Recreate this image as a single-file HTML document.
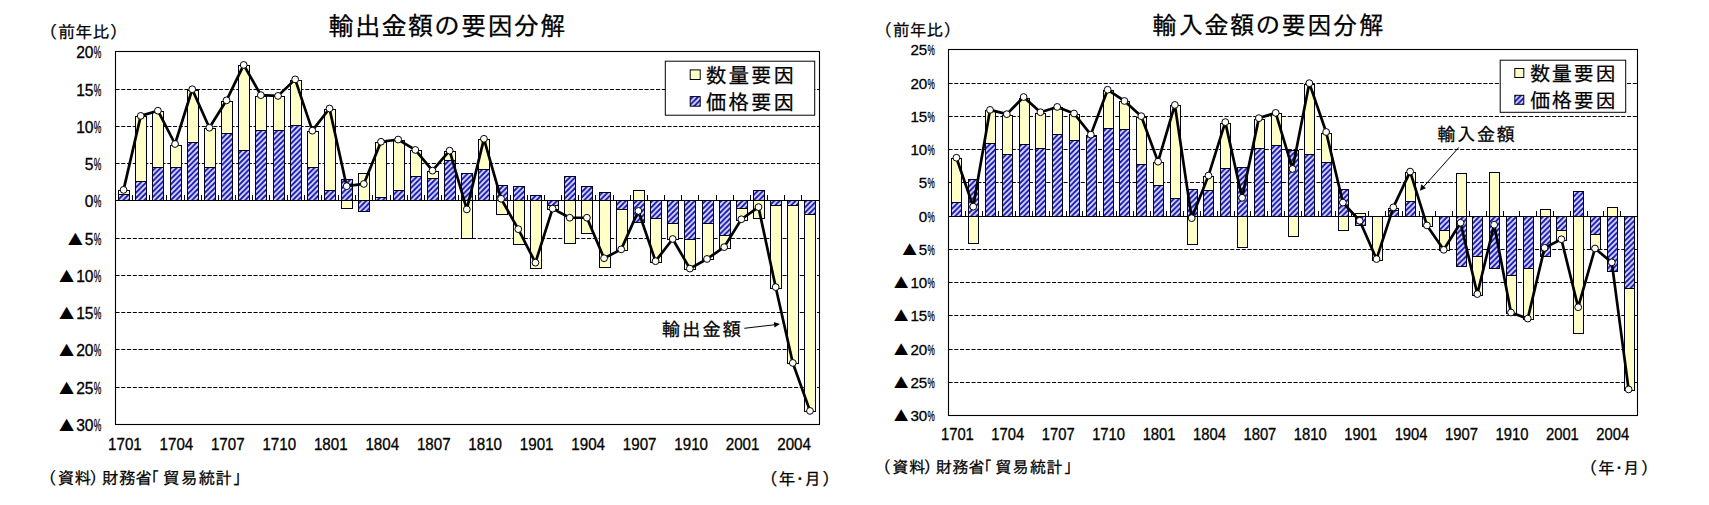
<!DOCTYPE html>
<html lang="ja"><head><meta charset="utf-8"><title>輸出金額・輸入金額の要因分解</title>
<style>html,body{margin:0;padding:0;background:#fff;}body{width:1709px;height:505px;overflow:hidden;}svg{display:block;}text{font-family:"Liberation Sans", "IPAGothic", sans-serif;fill:#000;}.b{stroke:#000;stroke-width:0.3px;}.j{stroke:#000;stroke-width:0.25px;}</style>
</head><body>
<svg width="1709" height="505" viewBox="0 0 1709 505">
<defs><pattern id="hatch" width="5.3" height="5.3" patternUnits="userSpaceOnUse"><rect width="5.3" height="5.3" fill="#e2e2ff"/><path d="M-1 1L1 -1M-1 6.3L6.3 -1M4.3 6.3L6.3 4.3" stroke="#1717b4" stroke-width="2.0"/></pattern></defs>
<rect width="1709" height="505" fill="#fff"/>
<rect x="115.50" y="51.50" width="704.00" height="373.00" fill="#fff" stroke="none"/>
<line x1="115.50" x2="819.50" y1="89.50" y2="89.50" stroke="#000" stroke-width="1" stroke-dasharray="4.1 1.65"/>
<line x1="115.50" x2="819.50" y1="126.50" y2="126.50" stroke="#000" stroke-width="1" stroke-dasharray="4.1 1.65"/>
<line x1="115.50" x2="819.50" y1="163.50" y2="163.50" stroke="#000" stroke-width="1" stroke-dasharray="4.1 1.65"/>
<line x1="115.50" x2="819.50" y1="238.50" y2="238.50" stroke="#000" stroke-width="1" stroke-dasharray="4.1 1.65"/>
<line x1="115.50" x2="819.50" y1="275.50" y2="275.50" stroke="#000" stroke-width="1" stroke-dasharray="4.1 1.65"/>
<line x1="115.50" x2="819.50" y1="312.50" y2="312.50" stroke="#000" stroke-width="1" stroke-dasharray="4.1 1.65"/>
<line x1="115.50" x2="819.50" y1="349.50" y2="349.50" stroke="#000" stroke-width="1" stroke-dasharray="4.1 1.65"/>
<line x1="115.50" x2="819.50" y1="387.50" y2="387.50" stroke="#000" stroke-width="1" stroke-dasharray="4.1 1.65"/>
<rect x="118.50" y="194.50" width="11.00" height="6.00" fill="url(#hatch)" stroke="#000018" stroke-width="1"/>
<rect x="118.50" y="190.50" width="11.00" height="4.00" fill="#ffffc8" stroke="#000018" stroke-width="1"/>
<rect x="135.50" y="181.50" width="11.00" height="19.00" fill="url(#hatch)" stroke="#000018" stroke-width="1"/>
<rect x="135.50" y="116.50" width="11.00" height="65.00" fill="#ffffc8" stroke="#000018" stroke-width="1"/>
<rect x="152.50" y="167.50" width="11.00" height="33.00" fill="url(#hatch)" stroke="#000018" stroke-width="1"/>
<rect x="152.50" y="111.50" width="11.00" height="56.00" fill="#ffffc8" stroke="#000018" stroke-width="1"/>
<rect x="170.50" y="167.50" width="11.00" height="33.00" fill="url(#hatch)" stroke="#000018" stroke-width="1"/>
<rect x="170.50" y="145.50" width="11.00" height="22.00" fill="#ffffc8" stroke="#000018" stroke-width="1"/>
<rect x="187.50" y="142.50" width="11.00" height="58.00" fill="url(#hatch)" stroke="#000018" stroke-width="1"/>
<rect x="187.50" y="90.50" width="11.00" height="52.00" fill="#ffffc8" stroke="#000018" stroke-width="1"/>
<rect x="204.50" y="167.50" width="11.00" height="33.00" fill="url(#hatch)" stroke="#000018" stroke-width="1"/>
<rect x="204.50" y="128.50" width="11.00" height="39.00" fill="#ffffc8" stroke="#000018" stroke-width="1"/>
<rect x="221.50" y="133.50" width="11.00" height="67.00" fill="url(#hatch)" stroke="#000018" stroke-width="1"/>
<rect x="221.50" y="101.50" width="11.00" height="32.00" fill="#ffffc8" stroke="#000018" stroke-width="1"/>
<rect x="238.50" y="150.50" width="11.00" height="50.00" fill="url(#hatch)" stroke="#000018" stroke-width="1"/>
<rect x="238.50" y="65.50" width="11.00" height="85.00" fill="#ffffc8" stroke="#000018" stroke-width="1"/>
<rect x="255.50" y="130.50" width="11.00" height="70.00" fill="url(#hatch)" stroke="#000018" stroke-width="1"/>
<rect x="255.50" y="96.50" width="11.00" height="34.00" fill="#ffffc8" stroke="#000018" stroke-width="1"/>
<rect x="273.50" y="130.50" width="11.00" height="70.00" fill="url(#hatch)" stroke="#000018" stroke-width="1"/>
<rect x="273.50" y="96.50" width="11.00" height="34.00" fill="#ffffc8" stroke="#000018" stroke-width="1"/>
<rect x="290.50" y="125.50" width="11.00" height="75.00" fill="url(#hatch)" stroke="#000018" stroke-width="1"/>
<rect x="290.50" y="80.50" width="11.00" height="45.00" fill="#ffffc8" stroke="#000018" stroke-width="1"/>
<rect x="307.50" y="167.50" width="11.00" height="33.00" fill="url(#hatch)" stroke="#000018" stroke-width="1"/>
<rect x="307.50" y="131.50" width="11.00" height="36.00" fill="#ffffc8" stroke="#000018" stroke-width="1"/>
<rect x="324.50" y="190.50" width="11.00" height="10.00" fill="url(#hatch)" stroke="#000018" stroke-width="1"/>
<rect x="324.50" y="109.50" width="11.00" height="81.00" fill="#ffffc8" stroke="#000018" stroke-width="1"/>
<rect x="341.50" y="179.50" width="11.00" height="21.00" fill="url(#hatch)" stroke="#000018" stroke-width="1"/>
<rect x="341.50" y="200.50" width="11.00" height="8.00" fill="#ffffc8" stroke="#000018" stroke-width="1"/>
<rect x="358.50" y="200.50" width="11.00" height="11.00" fill="url(#hatch)" stroke="#000018" stroke-width="1"/>
<rect x="358.50" y="173.50" width="11.00" height="27.00" fill="#ffffc8" stroke="#000018" stroke-width="1"/>
<rect x="375.50" y="197.50" width="11.00" height="3.00" fill="url(#hatch)" stroke="#000018" stroke-width="1"/>
<rect x="375.50" y="142.50" width="11.00" height="55.00" fill="#ffffc8" stroke="#000018" stroke-width="1"/>
<rect x="393.50" y="190.50" width="11.00" height="10.00" fill="url(#hatch)" stroke="#000018" stroke-width="1"/>
<rect x="393.50" y="140.50" width="11.00" height="50.00" fill="#ffffc8" stroke="#000018" stroke-width="1"/>
<rect x="410.50" y="176.50" width="11.00" height="24.00" fill="url(#hatch)" stroke="#000018" stroke-width="1"/>
<rect x="410.50" y="150.50" width="11.00" height="26.00" fill="#ffffc8" stroke="#000018" stroke-width="1"/>
<rect x="427.50" y="178.50" width="11.00" height="22.00" fill="url(#hatch)" stroke="#000018" stroke-width="1"/>
<rect x="427.50" y="171.50" width="11.00" height="7.00" fill="#ffffc8" stroke="#000018" stroke-width="1"/>
<rect x="444.50" y="160.50" width="11.00" height="40.00" fill="url(#hatch)" stroke="#000018" stroke-width="1"/>
<rect x="444.50" y="151.50" width="11.00" height="9.00" fill="#ffffc8" stroke="#000018" stroke-width="1"/>
<rect x="461.50" y="173.50" width="11.00" height="27.00" fill="url(#hatch)" stroke="#000018" stroke-width="1"/>
<rect x="461.50" y="200.50" width="11.00" height="38.00" fill="#ffffc8" stroke="#000018" stroke-width="1"/>
<rect x="478.50" y="169.50" width="11.00" height="31.00" fill="url(#hatch)" stroke="#000018" stroke-width="1"/>
<rect x="478.50" y="139.50" width="11.00" height="30.00" fill="#ffffc8" stroke="#000018" stroke-width="1"/>
<rect x="496.50" y="185.50" width="11.00" height="15.00" fill="url(#hatch)" stroke="#000018" stroke-width="1"/>
<rect x="496.50" y="200.50" width="11.00" height="14.00" fill="#ffffc8" stroke="#000018" stroke-width="1"/>
<rect x="513.50" y="186.50" width="11.00" height="14.00" fill="url(#hatch)" stroke="#000018" stroke-width="1"/>
<rect x="513.50" y="200.50" width="11.00" height="44.00" fill="#ffffc8" stroke="#000018" stroke-width="1"/>
<rect x="530.50" y="195.50" width="11.00" height="5.00" fill="url(#hatch)" stroke="#000018" stroke-width="1"/>
<rect x="530.50" y="200.50" width="11.00" height="68.00" fill="#ffffc8" stroke="#000018" stroke-width="1"/>
<rect x="547.50" y="200.50" width="11.00" height="5.00" fill="url(#hatch)" stroke="#000018" stroke-width="1"/>
<rect x="547.50" y="205.50" width="11.00" height="4.00" fill="#ffffc8" stroke="#000018" stroke-width="1"/>
<rect x="564.50" y="176.50" width="11.00" height="24.00" fill="url(#hatch)" stroke="#000018" stroke-width="1"/>
<rect x="564.50" y="200.50" width="11.00" height="43.00" fill="#ffffc8" stroke="#000018" stroke-width="1"/>
<rect x="581.50" y="186.50" width="11.00" height="14.00" fill="url(#hatch)" stroke="#000018" stroke-width="1"/>
<rect x="581.50" y="200.50" width="11.00" height="33.00" fill="#ffffc8" stroke="#000018" stroke-width="1"/>
<rect x="599.50" y="192.50" width="11.00" height="8.00" fill="url(#hatch)" stroke="#000018" stroke-width="1"/>
<rect x="599.50" y="200.50" width="11.00" height="67.00" fill="#ffffc8" stroke="#000018" stroke-width="1"/>
<rect x="616.50" y="200.50" width="11.00" height="9.00" fill="url(#hatch)" stroke="#000018" stroke-width="1"/>
<rect x="616.50" y="209.50" width="11.00" height="41.00" fill="#ffffc8" stroke="#000018" stroke-width="1"/>
<rect x="633.50" y="200.50" width="11.00" height="22.00" fill="url(#hatch)" stroke="#000018" stroke-width="1"/>
<rect x="633.50" y="190.50" width="11.00" height="10.00" fill="#ffffc8" stroke="#000018" stroke-width="1"/>
<rect x="650.50" y="200.50" width="11.00" height="18.00" fill="url(#hatch)" stroke="#000018" stroke-width="1"/>
<rect x="650.50" y="218.50" width="11.00" height="44.00" fill="#ffffc8" stroke="#000018" stroke-width="1"/>
<rect x="667.50" y="200.50" width="11.00" height="23.00" fill="url(#hatch)" stroke="#000018" stroke-width="1"/>
<rect x="667.50" y="223.50" width="11.00" height="16.00" fill="#ffffc8" stroke="#000018" stroke-width="1"/>
<rect x="684.50" y="200.50" width="11.00" height="39.00" fill="url(#hatch)" stroke="#000018" stroke-width="1"/>
<rect x="684.50" y="239.50" width="11.00" height="30.00" fill="#ffffc8" stroke="#000018" stroke-width="1"/>
<rect x="702.50" y="200.50" width="11.00" height="23.00" fill="url(#hatch)" stroke="#000018" stroke-width="1"/>
<rect x="702.50" y="223.50" width="11.00" height="36.00" fill="#ffffc8" stroke="#000018" stroke-width="1"/>
<rect x="719.50" y="200.50" width="11.00" height="35.00" fill="url(#hatch)" stroke="#000018" stroke-width="1"/>
<rect x="719.50" y="235.50" width="11.00" height="13.00" fill="#ffffc8" stroke="#000018" stroke-width="1"/>
<rect x="736.50" y="200.50" width="11.00" height="8.00" fill="url(#hatch)" stroke="#000018" stroke-width="1"/>
<rect x="736.50" y="208.50" width="11.00" height="12.00" fill="#ffffc8" stroke="#000018" stroke-width="1"/>
<rect x="753.50" y="190.50" width="11.00" height="10.00" fill="url(#hatch)" stroke="#000018" stroke-width="1"/>
<rect x="753.50" y="200.50" width="11.00" height="18.00" fill="#ffffc8" stroke="#000018" stroke-width="1"/>
<rect x="770.50" y="200.50" width="11.00" height="5.00" fill="url(#hatch)" stroke="#000018" stroke-width="1"/>
<rect x="770.50" y="205.50" width="11.00" height="83.00" fill="#ffffc8" stroke="#000018" stroke-width="1"/>
<rect x="787.50" y="200.50" width="11.00" height="5.00" fill="url(#hatch)" stroke="#000018" stroke-width="1"/>
<rect x="787.50" y="205.50" width="11.00" height="158.00" fill="#ffffc8" stroke="#000018" stroke-width="1"/>
<rect x="804.50" y="200.50" width="11.00" height="14.00" fill="url(#hatch)" stroke="#000018" stroke-width="1"/>
<rect x="804.50" y="214.50" width="11.00" height="197.00" fill="#ffffc8" stroke="#000018" stroke-width="1"/>
<rect x="115.50" y="51.50" width="704.00" height="373.00" fill="none" stroke="#000" stroke-width="1.1"/>
<line x1="115.50" x2="819.50" y1="200.50" y2="200.50" stroke="#000" stroke-width="1.1"/>
<path d="M132.50 200.50v-5.5M149.50 200.50v-5.5M166.50 200.50v-5.5M184.50 200.50v-5.5M201.50 200.50v-5.5M218.50 200.50v-5.5M235.50 200.50v-5.5M252.50 200.50v-5.5M269.50 200.50v-5.5M287.50 200.50v-5.5M304.50 200.50v-5.5M321.50 200.50v-5.5M338.50 200.50v-5.5M355.50 200.50v-5.5M372.50 200.50v-5.5M390.50 200.50v-5.5M407.50 200.50v-5.5M424.50 200.50v-5.5M441.50 200.50v-5.5M458.50 200.50v-5.5M475.50 200.50v-5.5M493.50 200.50v-5.5M510.50 200.50v-5.5M527.50 200.50v-5.5M544.50 200.50v-5.5M561.50 200.50v-5.5M578.50 200.50v-5.5M595.50 200.50v-5.5M613.50 200.50v-5.5M630.50 200.50v-5.5M647.50 200.50v-5.5M664.50 200.50v-5.5M681.50 200.50v-5.5M698.50 200.50v-5.5M716.50 200.50v-5.5M733.50 200.50v-5.5M750.50 200.50v-5.5M767.50 200.50v-5.5M784.50 200.50v-5.5M801.50 200.50v-5.5" stroke="#000" stroke-width="1" fill="none"/>
<polyline points="123.58,189.88 140.74,115.88 157.90,110.70 175.06,144.00 192.22,89.24 209.38,127.72 226.54,100.34 243.70,64.94 260.86,95.16 278.02,95.90 295.18,79.38 312.34,130.68 329.50,108.48 346.66,186.18 363.82,183.96 380.98,141.78 398.14,139.56 415.30,149.92 432.46,170.64 449.62,150.66 466.78,209.38 483.94,138.82 501.10,198.76 518.26,229.14 535.42,262.66 552.58,208.62 569.74,217.74 586.90,217.74 604.06,258.22 621.22,249.34 638.38,210.90 655.54,261.18 672.70,238.98 689.86,268.58 707.02,258.96 724.18,247.12 741.34,219.26 758.50,207.10 775.66,287.08 792.82,362.94 809.98,410.92" fill="none" stroke="#000" stroke-width="2.7" stroke-linejoin="round"/>
<circle cx="123.58" cy="189.88" r="3.4" fill="#fff" stroke="#000" stroke-width="1"/>
<circle cx="140.74" cy="115.88" r="3.4" fill="#fff" stroke="#000" stroke-width="1"/>
<circle cx="157.90" cy="110.70" r="3.4" fill="#fff" stroke="#000" stroke-width="1"/>
<circle cx="175.06" cy="144.00" r="3.4" fill="#fff" stroke="#000" stroke-width="1"/>
<circle cx="192.22" cy="89.24" r="3.4" fill="#fff" stroke="#000" stroke-width="1"/>
<circle cx="209.38" cy="127.72" r="3.4" fill="#fff" stroke="#000" stroke-width="1"/>
<circle cx="226.54" cy="100.34" r="3.4" fill="#fff" stroke="#000" stroke-width="1"/>
<circle cx="243.70" cy="64.94" r="3.4" fill="#fff" stroke="#000" stroke-width="1"/>
<circle cx="260.86" cy="95.16" r="3.4" fill="#fff" stroke="#000" stroke-width="1"/>
<circle cx="278.02" cy="95.90" r="3.4" fill="#fff" stroke="#000" stroke-width="1"/>
<circle cx="295.18" cy="79.38" r="3.4" fill="#fff" stroke="#000" stroke-width="1"/>
<circle cx="312.34" cy="130.68" r="3.4" fill="#fff" stroke="#000" stroke-width="1"/>
<circle cx="329.50" cy="108.48" r="3.4" fill="#fff" stroke="#000" stroke-width="1"/>
<circle cx="346.66" cy="186.18" r="3.4" fill="#fff" stroke="#000" stroke-width="1"/>
<circle cx="363.82" cy="183.96" r="3.4" fill="#fff" stroke="#000" stroke-width="1"/>
<circle cx="380.98" cy="141.78" r="3.4" fill="#fff" stroke="#000" stroke-width="1"/>
<circle cx="398.14" cy="139.56" r="3.4" fill="#fff" stroke="#000" stroke-width="1"/>
<circle cx="415.30" cy="149.92" r="3.4" fill="#fff" stroke="#000" stroke-width="1"/>
<circle cx="432.46" cy="170.64" r="3.4" fill="#fff" stroke="#000" stroke-width="1"/>
<circle cx="449.62" cy="150.66" r="3.4" fill="#fff" stroke="#000" stroke-width="1"/>
<circle cx="466.78" cy="209.38" r="3.4" fill="#fff" stroke="#000" stroke-width="1"/>
<circle cx="483.94" cy="138.82" r="3.4" fill="#fff" stroke="#000" stroke-width="1"/>
<circle cx="501.10" cy="198.76" r="3.4" fill="#fff" stroke="#000" stroke-width="1"/>
<circle cx="518.26" cy="229.14" r="3.4" fill="#fff" stroke="#000" stroke-width="1"/>
<circle cx="535.42" cy="262.66" r="3.4" fill="#fff" stroke="#000" stroke-width="1"/>
<circle cx="552.58" cy="208.62" r="3.4" fill="#fff" stroke="#000" stroke-width="1"/>
<circle cx="569.74" cy="217.74" r="3.4" fill="#fff" stroke="#000" stroke-width="1"/>
<circle cx="586.90" cy="217.74" r="3.4" fill="#fff" stroke="#000" stroke-width="1"/>
<circle cx="604.06" cy="258.22" r="3.4" fill="#fff" stroke="#000" stroke-width="1"/>
<circle cx="621.22" cy="249.34" r="3.4" fill="#fff" stroke="#000" stroke-width="1"/>
<circle cx="638.38" cy="210.90" r="3.4" fill="#fff" stroke="#000" stroke-width="1"/>
<circle cx="655.54" cy="261.18" r="3.4" fill="#fff" stroke="#000" stroke-width="1"/>
<circle cx="672.70" cy="238.98" r="3.4" fill="#fff" stroke="#000" stroke-width="1"/>
<circle cx="689.86" cy="268.58" r="3.4" fill="#fff" stroke="#000" stroke-width="1"/>
<circle cx="707.02" cy="258.96" r="3.4" fill="#fff" stroke="#000" stroke-width="1"/>
<circle cx="724.18" cy="247.12" r="3.4" fill="#fff" stroke="#000" stroke-width="1"/>
<circle cx="741.34" cy="219.26" r="3.4" fill="#fff" stroke="#000" stroke-width="1"/>
<circle cx="758.50" cy="207.10" r="3.4" fill="#fff" stroke="#000" stroke-width="1"/>
<circle cx="775.66" cy="287.08" r="3.4" fill="#fff" stroke="#000" stroke-width="1"/>
<circle cx="792.82" cy="362.94" r="3.4" fill="#fff" stroke="#000" stroke-width="1"/>
<circle cx="809.98" cy="410.92" r="3.4" fill="#fff" stroke="#000" stroke-width="1"/>
<text x="101.4" y="58.1" font-size="15.6" text-anchor="end" textLength="7.6" lengthAdjust="spacingAndGlyphs" class="b">%</text>
<text x="93.5" y="58.1" font-size="15.6" text-anchor="end" class="b">20</text>
<text x="101.4" y="96.1" font-size="15.6" text-anchor="end" textLength="7.6" lengthAdjust="spacingAndGlyphs" class="b">%</text>
<text x="93.5" y="96.1" font-size="15.6" text-anchor="end" class="b">15</text>
<text x="101.4" y="133.1" font-size="15.6" text-anchor="end" textLength="7.6" lengthAdjust="spacingAndGlyphs" class="b">%</text>
<text x="93.5" y="133.1" font-size="15.6" text-anchor="end" class="b">10</text>
<text x="101.4" y="170.1" font-size="15.6" text-anchor="end" textLength="7.6" lengthAdjust="spacingAndGlyphs" class="b">%</text>
<text x="93.5" y="170.1" font-size="15.6" text-anchor="end" class="b">5</text>
<text x="101.4" y="207.1" font-size="15.6" text-anchor="end" textLength="7.6" lengthAdjust="spacingAndGlyphs" class="b">%</text>
<text x="93.5" y="207.1" font-size="15.6" text-anchor="end" class="b">0</text>
<text x="101.4" y="245.1" font-size="15.6" text-anchor="end" textLength="7.6" lengthAdjust="spacingAndGlyphs" class="b">%</text>
<text x="93.5" y="245.1" font-size="15.6" text-anchor="end" class="b">5</text>
<text transform="translate(63.3 245.4) scale(1.04 0.89)" font-size="23.5">▲</text>
<text x="101.4" y="282.1" font-size="15.6" text-anchor="end" textLength="7.6" lengthAdjust="spacingAndGlyphs" class="b">%</text>
<text x="93.5" y="282.1" font-size="15.6" text-anchor="end" class="b">10</text>
<text transform="translate(54.6 282.4) scale(1.04 0.89)" font-size="23.5">▲</text>
<text x="101.4" y="319.1" font-size="15.6" text-anchor="end" textLength="7.6" lengthAdjust="spacingAndGlyphs" class="b">%</text>
<text x="93.5" y="319.1" font-size="15.6" text-anchor="end" class="b">15</text>
<text transform="translate(54.6 319.4) scale(1.04 0.89)" font-size="23.5">▲</text>
<text x="101.4" y="356.1" font-size="15.6" text-anchor="end" textLength="7.6" lengthAdjust="spacingAndGlyphs" class="b">%</text>
<text x="93.5" y="356.1" font-size="15.6" text-anchor="end" class="b">20</text>
<text transform="translate(54.6 356.4) scale(1.04 0.89)" font-size="23.5">▲</text>
<text x="101.4" y="394.1" font-size="15.6" text-anchor="end" textLength="7.6" lengthAdjust="spacingAndGlyphs" class="b">%</text>
<text x="93.5" y="394.1" font-size="15.6" text-anchor="end" class="b">25</text>
<text transform="translate(54.6 394.4) scale(1.04 0.89)" font-size="23.5">▲</text>
<text x="101.4" y="431.1" font-size="15.6" text-anchor="end" textLength="7.6" lengthAdjust="spacingAndGlyphs" class="b">%</text>
<text x="93.5" y="431.1" font-size="15.6" text-anchor="end" class="b">30</text>
<text transform="translate(54.6 431.4) scale(1.04 0.89)" font-size="23.5">▲</text>
<text x="124.9" y="449.8" font-size="16.2" text-anchor="middle" textLength="33.7" lengthAdjust="spacingAndGlyphs" class="b">1701</text>
<text x="176.4" y="449.8" font-size="16.2" text-anchor="middle" textLength="33.7" lengthAdjust="spacingAndGlyphs" class="b">1704</text>
<text x="227.8" y="449.8" font-size="16.2" text-anchor="middle" textLength="33.7" lengthAdjust="spacingAndGlyphs" class="b">1707</text>
<text x="279.3" y="449.8" font-size="16.2" text-anchor="middle" textLength="33.7" lengthAdjust="spacingAndGlyphs" class="b">1710</text>
<text x="330.8" y="449.8" font-size="16.2" text-anchor="middle" textLength="33.7" lengthAdjust="spacingAndGlyphs" class="b">1801</text>
<text x="382.3" y="449.8" font-size="16.2" text-anchor="middle" textLength="33.7" lengthAdjust="spacingAndGlyphs" class="b">1804</text>
<text x="433.8" y="449.8" font-size="16.2" text-anchor="middle" textLength="33.7" lengthAdjust="spacingAndGlyphs" class="b">1807</text>
<text x="485.2" y="449.8" font-size="16.2" text-anchor="middle" textLength="33.7" lengthAdjust="spacingAndGlyphs" class="b">1810</text>
<text x="536.7" y="449.8" font-size="16.2" text-anchor="middle" textLength="33.7" lengthAdjust="spacingAndGlyphs" class="b">1901</text>
<text x="588.2" y="449.8" font-size="16.2" text-anchor="middle" textLength="33.7" lengthAdjust="spacingAndGlyphs" class="b">1904</text>
<text x="639.7" y="449.8" font-size="16.2" text-anchor="middle" textLength="33.7" lengthAdjust="spacingAndGlyphs" class="b">1907</text>
<text x="691.2" y="449.8" font-size="16.2" text-anchor="middle" textLength="33.7" lengthAdjust="spacingAndGlyphs" class="b">1910</text>
<text x="742.6" y="449.8" font-size="16.2" text-anchor="middle" textLength="33.7" lengthAdjust="spacingAndGlyphs" class="b">2001</text>
<text x="794.1" y="449.8" font-size="16.2" text-anchor="middle" textLength="33.7" lengthAdjust="spacingAndGlyphs" class="b">2004</text>
<rect x="665.3" y="61.2" width="149.4" height="54" fill="#fff" stroke="#000" stroke-width="1"/>
<rect x="690.2" y="69.9" width="10" height="9.6" fill="#ffffc8" stroke="#000" stroke-width="1"/>
<rect x="690.2" y="96.6" width="10" height="9.6" fill="url(#hatch)" stroke="#000018" stroke-width="1"/>
<text x="705.80 728.40 751.00 773.60" y="83.0" font-size="20.8" class="j">数量要因</text>
<text x="705.80 728.40 751.00 773.60" y="109.8" font-size="20.8" class="j">価格要因</text>
<text x="328.45 354.90 381.35 407.80 434.25 460.70 487.15 513.60 540.05" y="35.2" font-size="25.5" class="j">輸出金額の要因分解</text>
<text x="40.48 58.20 75.20 92.70 109.77" y="38.0" font-size="16.8" class="j">（前年比）</text>
<text x="761.03 778.50 791.50 804.30 821.97" y="485.0" font-size="16.8" class="j">（年・月）</text>
<text x="40.09 57.75 74.60 89.21 101.90 118.90 135.30 142.87 163.10 180.70 198.50 215.20 232.73" y="484.2" font-size="16.6" class="j">（資料）財務省「貿易統計」</text>
<text x="661.80 682.00 702.20 722.40" y="335.8" font-size="18.6" class="j">輸出金額</text>
<line x1="744.3" y1="328.3" x2="776" y2="324.6" stroke="#000" stroke-width="1"/>
<polygon points="780,324.0 773.8,321.9 774.5,327.6" fill="#000"/>
<rect x="948.50" y="49.50" width="689.00" height="366.00" fill="#fff" stroke="none"/>
<line x1="948.50" x2="1637.50" y1="83.50" y2="83.50" stroke="#000" stroke-width="1" stroke-dasharray="4.1 1.65"/>
<line x1="948.50" x2="1637.50" y1="116.50" y2="116.50" stroke="#000" stroke-width="1" stroke-dasharray="4.1 1.65"/>
<line x1="948.50" x2="1637.50" y1="149.50" y2="149.50" stroke="#000" stroke-width="1" stroke-dasharray="4.1 1.65"/>
<line x1="948.50" x2="1637.50" y1="182.50" y2="182.50" stroke="#000" stroke-width="1" stroke-dasharray="4.1 1.65"/>
<line x1="948.50" x2="1637.50" y1="249.50" y2="249.50" stroke="#000" stroke-width="1" stroke-dasharray="4.1 1.65"/>
<line x1="948.50" x2="1637.50" y1="282.50" y2="282.50" stroke="#000" stroke-width="1" stroke-dasharray="4.1 1.65"/>
<line x1="948.50" x2="1637.50" y1="315.50" y2="315.50" stroke="#000" stroke-width="1" stroke-dasharray="4.1 1.65"/>
<line x1="948.50" x2="1637.50" y1="349.50" y2="349.50" stroke="#000" stroke-width="1" stroke-dasharray="4.1 1.65"/>
<line x1="948.50" x2="1637.50" y1="382.50" y2="382.50" stroke="#000" stroke-width="1" stroke-dasharray="4.1 1.65"/>
<rect x="951.50" y="202.50" width="10.00" height="14.00" fill="url(#hatch)" stroke="#000018" stroke-width="1"/>
<rect x="951.50" y="158.50" width="10.00" height="44.00" fill="#ffffc8" stroke="#000018" stroke-width="1"/>
<rect x="968.50" y="179.50" width="10.00" height="37.00" fill="url(#hatch)" stroke="#000018" stroke-width="1"/>
<rect x="968.50" y="216.50" width="10.00" height="27.00" fill="#ffffc8" stroke="#000018" stroke-width="1"/>
<rect x="985.50" y="143.50" width="10.00" height="73.00" fill="url(#hatch)" stroke="#000018" stroke-width="1"/>
<rect x="985.50" y="110.50" width="10.00" height="33.00" fill="#ffffc8" stroke="#000018" stroke-width="1"/>
<rect x="1002.50" y="154.50" width="10.00" height="62.00" fill="url(#hatch)" stroke="#000018" stroke-width="1"/>
<rect x="1002.50" y="115.50" width="10.00" height="39.00" fill="#ffffc8" stroke="#000018" stroke-width="1"/>
<rect x="1019.50" y="144.50" width="10.00" height="72.00" fill="url(#hatch)" stroke="#000018" stroke-width="1"/>
<rect x="1019.50" y="98.50" width="10.00" height="46.00" fill="#ffffc8" stroke="#000018" stroke-width="1"/>
<rect x="1035.50" y="148.50" width="10.00" height="68.00" fill="url(#hatch)" stroke="#000018" stroke-width="1"/>
<rect x="1035.50" y="113.50" width="10.00" height="35.00" fill="#ffffc8" stroke="#000018" stroke-width="1"/>
<rect x="1052.50" y="134.50" width="10.00" height="82.00" fill="url(#hatch)" stroke="#000018" stroke-width="1"/>
<rect x="1052.50" y="107.50" width="10.00" height="27.00" fill="#ffffc8" stroke="#000018" stroke-width="1"/>
<rect x="1069.50" y="140.50" width="10.00" height="76.00" fill="url(#hatch)" stroke="#000018" stroke-width="1"/>
<rect x="1069.50" y="114.50" width="10.00" height="26.00" fill="#ffffc8" stroke="#000018" stroke-width="1"/>
<rect x="1086.50" y="136.50" width="10.00" height="80.00" fill="url(#hatch)" stroke="#000018" stroke-width="1"/>
<rect x="1086.50" y="135.50" width="10.00" height="1.00" fill="#ffffc8" stroke="#000018" stroke-width="1"/>
<rect x="1103.50" y="128.50" width="10.00" height="88.00" fill="url(#hatch)" stroke="#000018" stroke-width="1"/>
<rect x="1103.50" y="90.50" width="10.00" height="38.00" fill="#ffffc8" stroke="#000018" stroke-width="1"/>
<rect x="1119.50" y="129.50" width="10.00" height="87.00" fill="url(#hatch)" stroke="#000018" stroke-width="1"/>
<rect x="1119.50" y="101.50" width="10.00" height="28.00" fill="#ffffc8" stroke="#000018" stroke-width="1"/>
<rect x="1136.50" y="164.50" width="10.00" height="52.00" fill="url(#hatch)" stroke="#000018" stroke-width="1"/>
<rect x="1136.50" y="117.50" width="10.00" height="47.00" fill="#ffffc8" stroke="#000018" stroke-width="1"/>
<rect x="1153.50" y="185.50" width="10.00" height="31.00" fill="url(#hatch)" stroke="#000018" stroke-width="1"/>
<rect x="1153.50" y="162.50" width="10.00" height="23.00" fill="#ffffc8" stroke="#000018" stroke-width="1"/>
<rect x="1170.50" y="198.50" width="10.00" height="18.00" fill="url(#hatch)" stroke="#000018" stroke-width="1"/>
<rect x="1170.50" y="105.50" width="10.00" height="93.00" fill="#ffffc8" stroke="#000018" stroke-width="1"/>
<rect x="1187.50" y="189.50" width="10.00" height="27.00" fill="url(#hatch)" stroke="#000018" stroke-width="1"/>
<rect x="1187.50" y="216.50" width="10.00" height="28.00" fill="#ffffc8" stroke="#000018" stroke-width="1"/>
<rect x="1203.50" y="190.50" width="10.00" height="26.00" fill="url(#hatch)" stroke="#000018" stroke-width="1"/>
<rect x="1203.50" y="176.50" width="10.00" height="14.00" fill="#ffffc8" stroke="#000018" stroke-width="1"/>
<rect x="1220.50" y="168.50" width="10.00" height="48.00" fill="url(#hatch)" stroke="#000018" stroke-width="1"/>
<rect x="1220.50" y="123.50" width="10.00" height="45.00" fill="#ffffc8" stroke="#000018" stroke-width="1"/>
<rect x="1237.50" y="167.50" width="10.00" height="49.00" fill="url(#hatch)" stroke="#000018" stroke-width="1"/>
<rect x="1237.50" y="216.50" width="10.00" height="31.00" fill="#ffffc8" stroke="#000018" stroke-width="1"/>
<rect x="1254.50" y="148.50" width="10.00" height="68.00" fill="url(#hatch)" stroke="#000018" stroke-width="1"/>
<rect x="1254.50" y="119.50" width="10.00" height="29.00" fill="#ffffc8" stroke="#000018" stroke-width="1"/>
<rect x="1271.50" y="145.50" width="10.00" height="71.00" fill="url(#hatch)" stroke="#000018" stroke-width="1"/>
<rect x="1271.50" y="113.50" width="10.00" height="32.00" fill="#ffffc8" stroke="#000018" stroke-width="1"/>
<rect x="1288.50" y="150.50" width="10.00" height="66.00" fill="url(#hatch)" stroke="#000018" stroke-width="1"/>
<rect x="1288.50" y="216.50" width="10.00" height="20.00" fill="#ffffc8" stroke="#000018" stroke-width="1"/>
<rect x="1304.50" y="154.50" width="10.00" height="62.00" fill="url(#hatch)" stroke="#000018" stroke-width="1"/>
<rect x="1304.50" y="84.50" width="10.00" height="70.00" fill="#ffffc8" stroke="#000018" stroke-width="1"/>
<rect x="1321.50" y="162.50" width="10.00" height="54.00" fill="url(#hatch)" stroke="#000018" stroke-width="1"/>
<rect x="1321.50" y="133.50" width="10.00" height="29.00" fill="#ffffc8" stroke="#000018" stroke-width="1"/>
<rect x="1338.50" y="189.50" width="10.00" height="27.00" fill="url(#hatch)" stroke="#000018" stroke-width="1"/>
<rect x="1338.50" y="216.50" width="10.00" height="14.00" fill="#ffffc8" stroke="#000018" stroke-width="1"/>
<rect x="1355.50" y="216.50" width="10.00" height="9.00" fill="url(#hatch)" stroke="#000018" stroke-width="1"/>
<rect x="1355.50" y="213.50" width="10.00" height="3.00" fill="#ffffc8" stroke="#000018" stroke-width="1"/>
<rect x="1372.50" y="216.50" width="10.00" height="44.00" fill="#ffffc8" stroke="#000018" stroke-width="1"/>
<rect x="1388.50" y="210.50" width="10.00" height="6.00" fill="url(#hatch)" stroke="#000018" stroke-width="1"/>
<rect x="1388.50" y="208.50" width="10.00" height="2.00" fill="#ffffc8" stroke="#000018" stroke-width="1"/>
<rect x="1405.50" y="201.50" width="10.00" height="15.00" fill="url(#hatch)" stroke="#000018" stroke-width="1"/>
<rect x="1405.50" y="172.50" width="10.00" height="29.00" fill="#ffffc8" stroke="#000018" stroke-width="1"/>
<rect x="1422.50" y="216.50" width="10.00" height="10.00" fill="#ffffc8" stroke="#000018" stroke-width="1"/>
<rect x="1439.50" y="216.50" width="10.00" height="14.00" fill="url(#hatch)" stroke="#000018" stroke-width="1"/>
<rect x="1439.50" y="230.50" width="10.00" height="20.00" fill="#ffffc8" stroke="#000018" stroke-width="1"/>
<rect x="1456.50" y="216.50" width="10.00" height="50.00" fill="url(#hatch)" stroke="#000018" stroke-width="1"/>
<rect x="1456.50" y="173.50" width="10.00" height="43.00" fill="#ffffc8" stroke="#000018" stroke-width="1"/>
<rect x="1472.50" y="216.50" width="10.00" height="40.00" fill="url(#hatch)" stroke="#000018" stroke-width="1"/>
<rect x="1472.50" y="256.50" width="10.00" height="39.00" fill="#ffffc8" stroke="#000018" stroke-width="1"/>
<rect x="1489.50" y="216.50" width="10.00" height="52.00" fill="url(#hatch)" stroke="#000018" stroke-width="1"/>
<rect x="1489.50" y="172.50" width="10.00" height="44.00" fill="#ffffc8" stroke="#000018" stroke-width="1"/>
<rect x="1506.50" y="216.50" width="10.00" height="59.00" fill="url(#hatch)" stroke="#000018" stroke-width="1"/>
<rect x="1506.50" y="275.50" width="10.00" height="38.00" fill="#ffffc8" stroke="#000018" stroke-width="1"/>
<rect x="1523.50" y="216.50" width="10.00" height="52.00" fill="url(#hatch)" stroke="#000018" stroke-width="1"/>
<rect x="1523.50" y="268.50" width="10.00" height="51.00" fill="#ffffc8" stroke="#000018" stroke-width="1"/>
<rect x="1540.50" y="216.50" width="10.00" height="40.00" fill="url(#hatch)" stroke="#000018" stroke-width="1"/>
<rect x="1540.50" y="209.50" width="10.00" height="7.00" fill="#ffffc8" stroke="#000018" stroke-width="1"/>
<rect x="1556.50" y="216.50" width="10.00" height="14.00" fill="url(#hatch)" stroke="#000018" stroke-width="1"/>
<rect x="1556.50" y="230.50" width="10.00" height="10.00" fill="#ffffc8" stroke="#000018" stroke-width="1"/>
<rect x="1573.50" y="191.50" width="10.00" height="25.00" fill="url(#hatch)" stroke="#000018" stroke-width="1"/>
<rect x="1573.50" y="216.50" width="10.00" height="117.00" fill="#ffffc8" stroke="#000018" stroke-width="1"/>
<rect x="1590.50" y="216.50" width="10.00" height="18.00" fill="url(#hatch)" stroke="#000018" stroke-width="1"/>
<rect x="1590.50" y="234.50" width="10.00" height="15.00" fill="#ffffc8" stroke="#000018" stroke-width="1"/>
<rect x="1607.50" y="216.50" width="10.00" height="55.00" fill="url(#hatch)" stroke="#000018" stroke-width="1"/>
<rect x="1607.50" y="207.50" width="10.00" height="9.00" fill="#ffffc8" stroke="#000018" stroke-width="1"/>
<rect x="1624.50" y="216.50" width="10.00" height="72.00" fill="url(#hatch)" stroke="#000018" stroke-width="1"/>
<rect x="1624.50" y="288.50" width="10.00" height="102.00" fill="#ffffc8" stroke="#000018" stroke-width="1"/>
<rect x="948.50" y="49.50" width="689.00" height="366.00" fill="none" stroke="#000" stroke-width="1.1"/>
<line x1="948.50" x2="1637.50" y1="216.50" y2="216.50" stroke="#000" stroke-width="1.1"/>
<path d="M965.50 216.50v-5.5M982.50 216.50v-5.5M998.50 216.50v-5.5M1015.50 216.50v-5.5M1032.50 216.50v-5.5M1049.50 216.50v-5.5M1066.50 216.50v-5.5M1082.50 216.50v-5.5M1099.50 216.50v-5.5M1116.50 216.50v-5.5M1133.50 216.50v-5.5M1150.50 216.50v-5.5M1166.50 216.50v-5.5M1183.50 216.50v-5.5M1200.50 216.50v-5.5M1217.50 216.50v-5.5M1234.50 216.50v-5.5M1250.50 216.50v-5.5M1267.50 216.50v-5.5M1284.50 216.50v-5.5M1301.50 216.50v-5.5M1318.50 216.50v-5.5M1335.50 216.50v-5.5M1351.50 216.50v-5.5M1368.50 216.50v-5.5M1385.50 216.50v-5.5M1402.50 216.50v-5.5M1419.50 216.50v-5.5M1435.50 216.50v-5.5M1452.50 216.50v-5.5M1469.50 216.50v-5.5M1486.50 216.50v-5.5M1503.50 216.50v-5.5M1519.50 216.50v-5.5M1536.50 216.50v-5.5M1553.50 216.50v-5.5M1570.50 216.50v-5.5M1587.50 216.50v-5.5M1603.50 216.50v-5.5M1620.50 216.50v-5.5" stroke="#000" stroke-width="1" fill="none"/>
<polyline points="956.40,157.74 973.21,206.66 990.01,109.89 1006.82,114.18 1023.62,97.02 1040.43,112.20 1057.23,106.92 1074.04,113.52 1090.84,134.64 1107.65,89.76 1124.45,100.98 1141.26,116.16 1158.06,161.70 1174.87,104.94 1191.67,218.14 1208.48,175.56 1225.28,122.10 1242.09,197.82 1258.89,118.14 1275.70,112.86 1292.50,168.96 1309.30,83.16 1326.11,132.00 1342.91,202.58 1359.72,220.78 1376.52,259.06 1393.33,207.34 1410.13,171.60 1426.94,225.40 1443.74,249.82 1460.55,222.76 1477.35,294.04 1494.16,224.74 1510.96,312.52 1527.77,318.58 1544.57,247.84 1561.38,239.26 1578.18,307.24 1594.99,248.50 1611.79,262.36 1628.60,389.42" fill="none" stroke="#000" stroke-width="2.7" stroke-linejoin="round"/>
<circle cx="956.40" cy="157.74" r="3.4" fill="#fff" stroke="#000" stroke-width="1"/>
<circle cx="973.21" cy="206.66" r="3.4" fill="#fff" stroke="#000" stroke-width="1"/>
<circle cx="990.01" cy="109.89" r="3.4" fill="#fff" stroke="#000" stroke-width="1"/>
<circle cx="1006.82" cy="114.18" r="3.4" fill="#fff" stroke="#000" stroke-width="1"/>
<circle cx="1023.62" cy="97.02" r="3.4" fill="#fff" stroke="#000" stroke-width="1"/>
<circle cx="1040.43" cy="112.20" r="3.4" fill="#fff" stroke="#000" stroke-width="1"/>
<circle cx="1057.23" cy="106.92" r="3.4" fill="#fff" stroke="#000" stroke-width="1"/>
<circle cx="1074.04" cy="113.52" r="3.4" fill="#fff" stroke="#000" stroke-width="1"/>
<circle cx="1090.84" cy="134.64" r="3.4" fill="#fff" stroke="#000" stroke-width="1"/>
<circle cx="1107.65" cy="89.76" r="3.4" fill="#fff" stroke="#000" stroke-width="1"/>
<circle cx="1124.45" cy="100.98" r="3.4" fill="#fff" stroke="#000" stroke-width="1"/>
<circle cx="1141.26" cy="116.16" r="3.4" fill="#fff" stroke="#000" stroke-width="1"/>
<circle cx="1158.06" cy="161.70" r="3.4" fill="#fff" stroke="#000" stroke-width="1"/>
<circle cx="1174.87" cy="104.94" r="3.4" fill="#fff" stroke="#000" stroke-width="1"/>
<circle cx="1191.67" cy="218.14" r="3.4" fill="#fff" stroke="#000" stroke-width="1"/>
<circle cx="1208.48" cy="175.56" r="3.4" fill="#fff" stroke="#000" stroke-width="1"/>
<circle cx="1225.28" cy="122.10" r="3.4" fill="#fff" stroke="#000" stroke-width="1"/>
<circle cx="1242.09" cy="197.82" r="3.4" fill="#fff" stroke="#000" stroke-width="1"/>
<circle cx="1258.89" cy="118.14" r="3.4" fill="#fff" stroke="#000" stroke-width="1"/>
<circle cx="1275.70" cy="112.86" r="3.4" fill="#fff" stroke="#000" stroke-width="1"/>
<circle cx="1292.50" cy="168.96" r="3.4" fill="#fff" stroke="#000" stroke-width="1"/>
<circle cx="1309.30" cy="83.16" r="3.4" fill="#fff" stroke="#000" stroke-width="1"/>
<circle cx="1326.11" cy="132.00" r="3.4" fill="#fff" stroke="#000" stroke-width="1"/>
<circle cx="1342.91" cy="202.58" r="3.4" fill="#fff" stroke="#000" stroke-width="1"/>
<circle cx="1359.72" cy="220.78" r="3.4" fill="#fff" stroke="#000" stroke-width="1"/>
<circle cx="1376.52" cy="259.06" r="3.4" fill="#fff" stroke="#000" stroke-width="1"/>
<circle cx="1393.33" cy="207.34" r="3.4" fill="#fff" stroke="#000" stroke-width="1"/>
<circle cx="1410.13" cy="171.60" r="3.4" fill="#fff" stroke="#000" stroke-width="1"/>
<circle cx="1426.94" cy="225.40" r="3.4" fill="#fff" stroke="#000" stroke-width="1"/>
<circle cx="1443.74" cy="249.82" r="3.4" fill="#fff" stroke="#000" stroke-width="1"/>
<circle cx="1460.55" cy="222.76" r="3.4" fill="#fff" stroke="#000" stroke-width="1"/>
<circle cx="1477.35" cy="294.04" r="3.4" fill="#fff" stroke="#000" stroke-width="1"/>
<circle cx="1494.16" cy="224.74" r="3.4" fill="#fff" stroke="#000" stroke-width="1"/>
<circle cx="1510.96" cy="312.52" r="3.4" fill="#fff" stroke="#000" stroke-width="1"/>
<circle cx="1527.77" cy="318.58" r="3.4" fill="#fff" stroke="#000" stroke-width="1"/>
<circle cx="1544.57" cy="247.84" r="3.4" fill="#fff" stroke="#000" stroke-width="1"/>
<circle cx="1561.38" cy="239.26" r="3.4" fill="#fff" stroke="#000" stroke-width="1"/>
<circle cx="1578.18" cy="307.24" r="3.4" fill="#fff" stroke="#000" stroke-width="1"/>
<circle cx="1594.99" cy="248.50" r="3.4" fill="#fff" stroke="#000" stroke-width="1"/>
<circle cx="1611.79" cy="262.36" r="3.4" fill="#fff" stroke="#000" stroke-width="1"/>
<circle cx="1628.60" cy="389.42" r="3.4" fill="#fff" stroke="#000" stroke-width="1"/>
<text x="934.9" y="55.1" font-size="15.2" text-anchor="end" textLength="7.3" lengthAdjust="spacingAndGlyphs" class="b">%</text>
<text x="927.3" y="55.1" font-size="15.2" text-anchor="end" class="b">25</text>
<text x="934.9" y="89.1" font-size="15.2" text-anchor="end" textLength="7.3" lengthAdjust="spacingAndGlyphs" class="b">%</text>
<text x="927.3" y="89.1" font-size="15.2" text-anchor="end" class="b">20</text>
<text x="934.9" y="122.1" font-size="15.2" text-anchor="end" textLength="7.3" lengthAdjust="spacingAndGlyphs" class="b">%</text>
<text x="927.3" y="122.1" font-size="15.2" text-anchor="end" class="b">15</text>
<text x="934.9" y="155.1" font-size="15.2" text-anchor="end" textLength="7.3" lengthAdjust="spacingAndGlyphs" class="b">%</text>
<text x="927.3" y="155.1" font-size="15.2" text-anchor="end" class="b">10</text>
<text x="934.9" y="188.1" font-size="15.2" text-anchor="end" textLength="7.3" lengthAdjust="spacingAndGlyphs" class="b">%</text>
<text x="927.3" y="188.1" font-size="15.2" text-anchor="end" class="b">5</text>
<text x="934.9" y="222.1" font-size="15.2" text-anchor="end" textLength="7.3" lengthAdjust="spacingAndGlyphs" class="b">%</text>
<text x="927.3" y="222.1" font-size="15.2" text-anchor="end" class="b">0</text>
<text x="934.9" y="255.1" font-size="15.2" text-anchor="end" textLength="7.3" lengthAdjust="spacingAndGlyphs" class="b">%</text>
<text x="927.3" y="255.1" font-size="15.2" text-anchor="end" class="b">5</text>
<text transform="translate(898.0 255.4) scale(1.04 0.89)" font-size="22.6">▲</text>
<text x="934.9" y="288.1" font-size="15.2" text-anchor="end" textLength="7.3" lengthAdjust="spacingAndGlyphs" class="b">%</text>
<text x="927.3" y="288.1" font-size="15.2" text-anchor="end" class="b">10</text>
<text transform="translate(889.6 288.4) scale(1.04 0.89)" font-size="22.6">▲</text>
<text x="934.9" y="321.1" font-size="15.2" text-anchor="end" textLength="7.3" lengthAdjust="spacingAndGlyphs" class="b">%</text>
<text x="927.3" y="321.1" font-size="15.2" text-anchor="end" class="b">15</text>
<text transform="translate(889.6 321.4) scale(1.04 0.89)" font-size="22.6">▲</text>
<text x="934.9" y="355.1" font-size="15.2" text-anchor="end" textLength="7.3" lengthAdjust="spacingAndGlyphs" class="b">%</text>
<text x="927.3" y="355.1" font-size="15.2" text-anchor="end" class="b">20</text>
<text transform="translate(889.6 355.4) scale(1.04 0.89)" font-size="22.6">▲</text>
<text x="934.9" y="388.1" font-size="15.2" text-anchor="end" textLength="7.3" lengthAdjust="spacingAndGlyphs" class="b">%</text>
<text x="927.3" y="388.1" font-size="15.2" text-anchor="end" class="b">25</text>
<text transform="translate(889.6 388.4) scale(1.04 0.89)" font-size="22.6">▲</text>
<text x="934.9" y="421.1" font-size="15.2" text-anchor="end" textLength="7.3" lengthAdjust="spacingAndGlyphs" class="b">%</text>
<text x="927.3" y="421.1" font-size="15.2" text-anchor="end" class="b">30</text>
<text transform="translate(889.6 421.4) scale(1.04 0.89)" font-size="22.6">▲</text>
<text x="957.4" y="439.5" font-size="15.9" text-anchor="middle" textLength="32.9" lengthAdjust="spacingAndGlyphs" class="b">1701</text>
<text x="1007.8" y="439.5" font-size="15.9" text-anchor="middle" textLength="32.9" lengthAdjust="spacingAndGlyphs" class="b">1704</text>
<text x="1058.2" y="439.5" font-size="15.9" text-anchor="middle" textLength="32.9" lengthAdjust="spacingAndGlyphs" class="b">1707</text>
<text x="1108.6" y="439.5" font-size="15.9" text-anchor="middle" textLength="32.9" lengthAdjust="spacingAndGlyphs" class="b">1710</text>
<text x="1159.1" y="439.5" font-size="15.9" text-anchor="middle" textLength="32.9" lengthAdjust="spacingAndGlyphs" class="b">1801</text>
<text x="1209.5" y="439.5" font-size="15.9" text-anchor="middle" textLength="32.9" lengthAdjust="spacingAndGlyphs" class="b">1804</text>
<text x="1259.9" y="439.5" font-size="15.9" text-anchor="middle" textLength="32.9" lengthAdjust="spacingAndGlyphs" class="b">1807</text>
<text x="1310.3" y="439.5" font-size="15.9" text-anchor="middle" textLength="32.9" lengthAdjust="spacingAndGlyphs" class="b">1810</text>
<text x="1360.7" y="439.5" font-size="15.9" text-anchor="middle" textLength="32.9" lengthAdjust="spacingAndGlyphs" class="b">1901</text>
<text x="1411.1" y="439.5" font-size="15.9" text-anchor="middle" textLength="32.9" lengthAdjust="spacingAndGlyphs" class="b">1904</text>
<text x="1461.5" y="439.5" font-size="15.9" text-anchor="middle" textLength="32.9" lengthAdjust="spacingAndGlyphs" class="b">1907</text>
<text x="1512.0" y="439.5" font-size="15.9" text-anchor="middle" textLength="32.9" lengthAdjust="spacingAndGlyphs" class="b">1910</text>
<text x="1562.4" y="439.5" font-size="15.9" text-anchor="middle" textLength="32.9" lengthAdjust="spacingAndGlyphs" class="b">2001</text>
<text x="1612.8" y="439.5" font-size="15.9" text-anchor="middle" textLength="32.9" lengthAdjust="spacingAndGlyphs" class="b">2004</text>
<rect x="1500.2" y="60.2" width="125.5" height="52.1" fill="#fff" stroke="#000" stroke-width="1"/>
<rect x="1514.8" y="68.5" width="9" height="9" fill="#ffffc8" stroke="#000" stroke-width="1"/>
<rect x="1514.8" y="95.3" width="9" height="9" fill="url(#hatch)" stroke="#000018" stroke-width="1"/>
<text x="1530.00 1551.80 1573.60 1595.40" y="81.1" font-size="20.4" class="j">数量要因</text>
<text x="1530.00 1551.80 1573.60 1595.40" y="108.2" font-size="20.4" class="j">価格要因</text>
<text x="1152.55 1178.31 1204.07 1229.83 1255.59 1281.35 1307.11 1332.87 1358.63" y="33.9" font-size="24.7" class="j">輸入金額の要因分解</text>
<text x="875.57 892.95 909.65 926.85 943.53" y="36.4" font-size="16.5" class="j">（前年比）</text>
<text x="1580.76 1598.05 1610.65 1623.05 1640.74" y="474.1" font-size="16.5" class="j">（年・月）</text>
<text x="874.72 892.35 909.05 923.38 935.65 952.35 968.35 975.75 995.35 1012.25 1029.85 1046.25 1063.65" y="473.0" font-size="16.3" class="j">（資料）財務省「貿易統計」</text>
<text x="1437.30 1457.00 1476.70 1496.40" y="141.4" font-size="18.4" class="j">輸入金額</text>
<line x1="1458.8" y1="147.4" x2="1423" y2="187.4" stroke="#000" stroke-width="1"/>
<polygon points="1419.9,190.8 1421.4,184.2 1425.9,188.2" fill="#000"/>
</svg></body></html>
